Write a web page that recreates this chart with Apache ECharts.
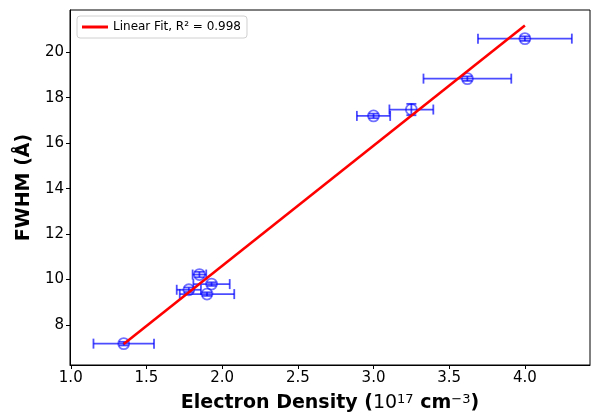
<!DOCTYPE html>
<html>
<head>
<meta charset="utf-8">
<script src="https://cdn.jsdelivr.net/npm/echarts@6/dist/echarts.min.js"></script>
<style>
  html, body { margin: 0; padding: 0; background: #fff; }
  #chart { width: 592px; height: 413px; }
</style>
</head>
<body>
<div id="chart"></div>
<script>
// measured points: electron density (1e17 cm^-3) vs FWHM (A)
var density = [1.35, 1.78, 1.85, 1.93, 1.90, 3.00, 3.25, 3.62, 4.00];
var fwhm    = [7.18, 9.55, 10.22, 9.80, 9.36, 17.20, 17.48, 18.84, 20.60];
var densErr = [0.20, 0.08, 0.045, 0.12, 0.18, 0.11, 0.145, 0.29, 0.31];
var fwhmErr = [0.08, 0.10, 0.12, 0.08, 0.08, 0.10, 0.25, 0.10, 0.10];

// linear fit end points
var fitX = [1.35, 4.00];
var fitY = [7.16, 21.18];

var xTicks = [1.0, 1.5, 2.0, 2.5, 3.0, 3.5, 4.0];
var yTicks = [8, 10, 12, 14, 16, 18, 20];

var blue = 'rgba(0,0,255,0.7)';
var chart = echarts.init(document.getElementById('chart'));

var errData = density.map(function (x, i) {
    return [x, fwhm[i], densErr[i], fwhmErr[i]];
});

function renderErr(params, api) {
    var x = api.value(0), y = api.value(1);
    var dx = api.value(2), dy = api.value(3);
    var l = api.coord([x - dx, y]);
    var r = api.coord([x + dx, y]);
    var t = api.coord([x, y + dy]);
    var b = api.coord([x, y - dy]);
    var cap = 5;
    var st = { stroke: blue, lineWidth: 1.8 };
    return {
        type: 'group',
        children: [
            { type: 'line', shape: { x1: l[0], y1: l[1], x2: r[0], y2: r[1] }, style: st },
            { type: 'line', shape: { x1: l[0], y1: l[1] - cap, x2: l[0], y2: l[1] + cap }, style: st },
            { type: 'line', shape: { x1: r[0], y1: r[1] - cap, x2: r[0], y2: r[1] + cap }, style: st },
            { type: 'line', shape: { x1: t[0], y1: t[1], x2: b[0], y2: b[1] }, style: st },
            { type: 'line', shape: { x1: t[0] - cap, y1: t[1], x2: t[0] + cap, y2: t[1] }, style: st },
            { type: 'line', shape: { x1: b[0] - cap, y1: b[1], x2: b[0] + cap, y2: b[1] }, style: st }
        ]
    };
}

chart.setOption({
    animation: false,
    textStyle: { fontFamily: 'DejaVu Sans' },
    grid: {
        left: 70, right: 2, top: 10, bottom: 48,
        outerBoundsMode: 'none', containLabel: false,
        show: true, borderColor: '#000', borderWidth: 1
    },
    legend: {
        left: 77, top: 16,
        data: [{ name: 'Linear Fit, R² = 0.998', icon: 'rect' }],
        itemWidth: 26, itemHeight: 3,
        padding: [5, 6, 5, 5],
        borderColor: '#d0d0d0', borderWidth: 1, borderRadius: 3,
        backgroundColor: '#fff',
        textStyle: { fontSize: 12, color: '#000', fontFamily: 'DejaVu Sans' }
    },
    xAxis: {
        type: 'value', min: 0.995, max: 4.43,
        name: 'Electron Density ({n|10}{sup|17} cm{sup|−3})',
        nameLocation: 'middle', nameGap: 28,
        nameTextStyle: {
            fontSize: 19, fontWeight: 'bold', color: '#000',
            rich: {
                n: { fontSize: 19, fontWeight: 'normal', color: '#000' },
                sup: { fontSize: 13, fontWeight: 'normal', verticalAlign: 'top', padding: [0, 0, 8, 0], color: '#000' }
            }
        },
        splitLine: { show: false },
        axisLine: { show: true, onZero: false, lineStyle: { color: '#000' } },
        axisTick: { show: true, length: 4, customValues: xTicks, lineStyle: { color: '#000' } },
        axisLabel: {
            fontSize: 15, color: '#000', margin: 6, customValues: xTicks,
            formatter: function (v) { return v.toFixed(1); }
        }
    },
    yAxis: {
        type: 'value', min: 6.24, max: 21.86,
        name: 'FWHM (Å)',
        nameLocation: 'middle', nameGap: 32,
        nameTextStyle: { fontSize: 19, fontWeight: 'bold', color: '#000' },
        splitLine: { show: false },
        axisLine: { show: true, onZero: false, lineStyle: { color: '#000' } },
        axisTick: { show: true, length: 4, customValues: yTicks, lineStyle: { color: '#000' } },
        axisLabel: { fontSize: 15, color: '#000', margin: 6, customValues: yTicks }
    },
    series: [
        {
            type: 'custom',
            renderItem: renderErr,
            data: errData,
            encode: { x: 0, y: 1 },
            z: 2
        },
        {
            type: 'scatter',
            data: density.map(function (x, i) { return [x, fwhm[i]]; }),
            symbol: 'circle', symbolSize: 11,
            itemStyle: { color: 'rgba(0,0,0,0)', borderColor: blue, borderWidth: 1.8 },
            z: 3
        },
        {
            type: 'line',
            name: 'Linear Fit, R² = 0.998',
            data: fitX.map(function (x, i) { return [x, fitY[i]]; }),
            showSymbol: false, symbol: 'none',
            lineStyle: { color: '#ff0000', width: 2.6 },
            itemStyle: { color: '#ff0000' },
            z: 4
        }
    ]
});
</script>
</body>
</html>
